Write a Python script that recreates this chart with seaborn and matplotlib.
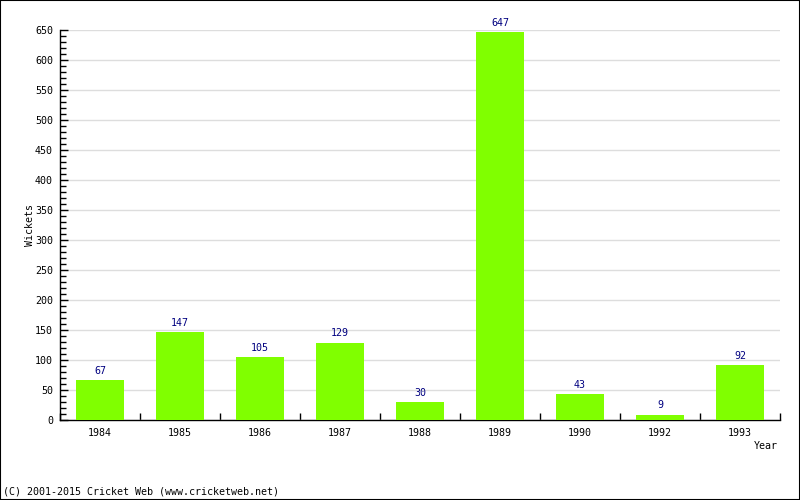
import matplotlib
matplotlib.use("Agg")
import matplotlib.pyplot as plt
import seaborn as sns
import pandas as pd
import numpy as np
from matplotlib.ticker import MultipleLocator, FixedLocator
from matplotlib.patches import Rectangle

years = ["1984", "1985", "1986", "1987", "1988", "1989", "1990", "1992", "1993"]
wickets = [67, 147, 105, 129, 30, 647, 43, 9, 92]

sns.set_style("white")
plt.rcParams["font.family"] = ["DejaVu Sans Mono"]
plt.rcParams["font.size"] = 7.2
plt.rcParams["text.color"] = "black"
plt.rcParams["xtick.color"] = "black"
plt.rcParams["ytick.color"] = "black"
plt.rcParams["xtick.labelcolor"] = "black"
plt.rcParams["ytick.labelcolor"] = "black"

FS = 7.2

df = pd.DataFrame({"Year": years, "Wickets": wickets})

fig = plt.figure(figsize=(8, 5), dpi=100)
ax = fig.add_axes([60/800, 80/500, 720/800, 390/500])

sns.barplot(data=df, x="Year", y="Wickets", color="#80FF00", saturation=1,
            width=0.61, ax=ax, zorder=3, linewidth=0, edgecolor="none")

for c in ax.containers:
    ax.bar_label(c, labels=[str(v) for v in wickets], color="#000080",
                 padding=3, fontsize=FS, clip_on=False)

ax.set_ylim(0, 650)
ax.set_xlim(-0.5, len(years) - 0.5)
ax.yaxis.set_major_locator(MultipleLocator(50))
ax.yaxis.set_minor_locator(MultipleLocator(10))
ax.yaxis.grid(True, which="major", color="#dddddd", linewidth=1, zorder=0)
ax.set_axisbelow(True)
ax.tick_params(axis="y", which="major", direction="in", length=6, width=1,
               color="black", labelsize=FS, pad=5, left=True)
ax.tick_params(axis="y", which="minor", direction="in", length=4, width=1,
               color="black", left=True)
ax.xaxis.set_minor_locator(FixedLocator(np.arange(-0.5, len(years), 1.0)))
ax.tick_params(axis="x", which="major", length=0, labelsize=FS, pad=6)
ax.tick_params(axis="x", which="minor", direction="in", length=5, width=1,
               color="black", bottom=True)

for s in ["top", "right"]:
    ax.spines[s].set_visible(False)
for s in ["left", "bottom"]:
    ax.spines[s].set_color("black")
    ax.spines[s].set_linewidth(1)

ax.set_xlabel("")
ax.set_ylabel("")
fig.text(778/800, 1 - 446/500, "Year", ha="right", va="center", fontsize=FS)
fig.text(30/800, 1 - 225/500, "Wickets", ha="center", va="center",
         rotation=90, fontsize=FS)
fig.text(3/800, 1 - 492/500, "(C) 2001-2015 Cricket Web (www.cricketweb.net)",
         ha="left", va="center", fontsize=FS)

fig.patches.append(Rectangle((0, 0), 1, 1, transform=fig.transFigure,
                             fill=False, edgecolor="black", linewidth=1.5))

fig.savefig("out.png", dpi=100, facecolor="white")
